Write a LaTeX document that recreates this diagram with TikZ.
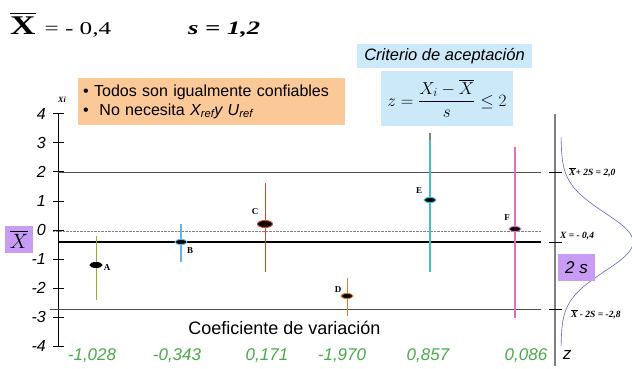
\documentclass[tikz,border=0pt]{standalone}
\usepackage{amsmath,amssymb}
\usepackage{xcolor}
\usepackage{fontspec}
\setmainfont{Liberation Serif}
\setsansfont{Liberation Sans}
\usepackage{tikz}
\usetikzlibrary{shapes.geometric}

\definecolor{peach}{RGB}{251,201,152}
\definecolor{paleblue}{RGB}{204,233,250}
\definecolor{boxviolet}{RGB}{200,156,245}
\definecolor{zgreen}{RGB}{72,170,72}
\definecolor{curveblue}{RGB}{100,100,200}
\definecolor{barA}{RGB}{140,180,40}
\definecolor{barB}{RGB}{100,180,240}
\definecolor{barC}{RGB}{200,80,40}
\definecolor{barD}{RGB}{215,125,45}
\definecolor{barE}{RGB}{70,190,195}
\definecolor{barF}{RGB}{225,110,195}

\begin{document}
\begin{tikzpicture}[x=1pt,y=-1pt,
  ticklab/.style={font=\sffamily\itshape\fontsize{16}{16}\selectfont, anchor=east, inner sep=0pt},
  zval/.style={text=zgreen, font=\sffamily\itshape\fontsize{17}{17}\selectfont, inner sep=0pt},
  dot/.style={ellipse, fill=black, draw, line width=1pt, minimum width=12pt, minimum height=5pt, inner sep=0pt},
  plab/.style={font=\bfseries\fontsize{9}{9}\selectfont, inner sep=0pt},
  rlab/.style={font=\bfseries\itshape\fontsize{9.5}{9.5}\selectfont, anchor=west, inner sep=0pt},
  vbox/.style={fill=boxviolet, inner sep=0pt},
  bar/.style={line width=1.2pt},
  refline/.style={gray!60!black, line width=0.8pt}]
\useasboundingbox (0,0) rectangle (632,369);

\node[anchor=base west, inner sep=0pt] (mean) at (10,35)
  {\scalebox{1.3}[1]{\fontsize{27}{27}\selectfont$\overline{\mbox{\bfseries X}}$}\hspace{9pt}%
   \scalebox{1.4}[1]{\fontsize{18}{18}\selectfont = - 0,4}};
\node[anchor=base west, inner sep=0pt] (sd) at (188,35)
  {\scalebox{1.4}[1]{\bfseries\itshape\fontsize{19}{19}\selectfont s = 1,2}};

\node[fill=peach, anchor=north west, text width=257pt, inner xsep=5pt, minimum height=47pt,
  align=left, font=\sffamily\fontsize{16}{19}\selectfont] (notes) at (78,78)
  {\textbullet\ Todos son igualmente confiables\\
   \textbullet\ \ No necesita \textit{X\textsubscript{ref}y U\textsubscript{ref}}};

\node[fill=paleblue, minimum width=175pt, minimum height=24pt, inner sep=0pt,
  font=\sffamily\itshape\fontsize{16.5}{16.5}\selectfont] (crit) at (444.5,56) {Criterio de aceptación};
\node[fill=paleblue, minimum width=132pt, minimum height=55pt, inner sep=0pt] (formula) at (447,98.5)
  {\fontsize{17}{17}\selectfont$z=\dfrac{X_i-\overline{X}}{s}\le 2$};

\draw[line width=1pt] (58,113) -- (58,346);
\foreach \v in {4,3,...,-4}{
  \draw[line width=0.8pt] (53,{230-29.1*\v}) -- (64,{230-29.1*\v});
  \node[ticklab] (t\v) at (46,{230-29.1*\v}) {\v};
}
\node[font=\bfseries\itshape\fontsize{8}{8}\selectfont] (xi) at (62,100) {Xi};

\draw[refline] (58,172) -- (541,172);
\draw[densely dotted, gray] (53,231) -- (541,231);
\draw[line width=2pt] (58,242) -- (541,242);
\draw[refline] (50,309) -- (541,309);

\draw[gray, line width=1.5pt] (555,114) -- (555,366);
\draw[line width=0.8pt] (549,172) -- (562,172);
\draw[line width=0.8pt] (549,242) -- (562,242);
\draw[line width=0.8pt] (549,309) -- (562,309);
\node[rlab] (upper) at (569,172) {$\overline{\mbox{X}}$+ 2S = 2,0};
\node[rlab] (centre) at (560,236) {X = - 0,4};
\node[rlab] (lower) at (571,314) {$\overline{\mbox{X}}$ - 2S = -2,8};
\draw[curveblue, line width=0.6pt, domain=137:346, samples=90, variable=\t]
  plot ({561+72*exp(-((\t-242)^2)/1718)},\t);

\node[vbox, minimum width=37pt, minimum height=27pt, font=\sffamily\itshape\fontsize{17}{17}\selectfont] (twos) at (576.5,267.5) {2 s};
\node[vbox, minimum width=28pt, minimum height=27pt] (xbarbox) at (19,239.5) {\fontsize{20}{20}\selectfont$\overline{X}$};
\node[font=\sffamily\itshape\fontsize{17}{17}\selectfont, inner sep=0pt] (zlab) at (567,355) {z};

\coordinate (Atop) at (96,236);  \coordinate (Abot) at (96,300);
\coordinate (Btop) at (181,224); \coordinate (Bbot) at (181,262);
\coordinate (Ctop) at (265,183); \coordinate (Cbot) at (265,272);
\coordinate (Dtop) at (347,278); \coordinate (Dbot) at (347,316);
\coordinate (Etop) at (430,133); \coordinate (Ebot) at (430,272);
\coordinate (Ftop) at (515,147); \coordinate (Fbot) at (515,318);
\draw[bar, barA, line width=1pt] (Atop) -- (Abot);
\draw[bar, barB] (Btop) -- (Bbot);
\draw[bar, barC, line width=1pt] (Ctop) -- (Cbot);
\draw[bar, barD, line width=1pt] (Dtop) -- (Dbot);
\draw[bar, barE] (Etop) -- (Ebot);
\draw[bar, gray] (Etop) -- ++(0,7);
\draw[bar, barF] (Ftop) -- (Fbot);

\node[dot, draw=black] (A) at (96,265) {};
\node[dot, draw=barB] (B) at (181,242) {};
\node[dot, draw=barC, minimum width=15pt, minimum height=7pt] (C) at (265,224) {};
\node[dot, draw=barD] (D) at (347,296) {};
\node[dot, draw=barE] (E) at (430,200) {};
\node[dot, draw=barF] (F) at (515,229) {};
\node[plab] (Alab) at (107,268) {A};
\node[plab] (Blab) at (190,251) {B};
\node[plab] (Clab) at (255,212) {C};
\node[plab] (Dlab) at (338,290) {D};
\node[plab] (Elab) at (419,191) {E};
\node[plab] (Flab) at (507,218) {F};

\node[font=\sffamily\fontsize{18}{18}\selectfont, inner sep=0pt] (xlabel) at (284.5,328) {Coeficiente de variación};
\node[zval] (zA) at (92,356) {-1,028};
\node[zval] (zB) at (177,356) {-0,343};
\node[zval] (zC) at (267,356) {0,171};
\node[zval] (zD) at (342,356) {-1,970};
\node[zval] (zE) at (428,356) {0,857};
\node[zval] (zF) at (526,356) {0,086};
\end{tikzpicture}
\end{document}
